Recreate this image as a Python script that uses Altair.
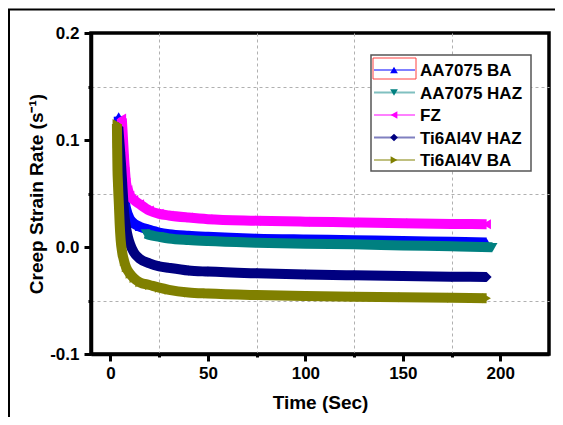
import altair as alt
import pandas as pd

names = ["AA7075 BA", "AA7075 HAZ", "FZ", "Ti6Al4V HAZ", "Ti6Al4V BA"]
colors = ["#0000FF", "#008080", "#FF00FF", "#000080", "#808000"]
line_colors = ["#8080ff", "#80c0c0", "#ff80ff", "#8080c0", "#c0c080"]
shapes = ["triangle-up", "triangle-down", "triangle-left", "diamond", "triangle-right"]

t_aa_ba = [4.2, 4.8, 5.3, 5.8, 6.3, 7, 8, 10, 12, 15, 20, 25, 30, 40, 50, 75, 100, 125, 150, 175, 193]
v_aa_ba = [0.122, 0.106, 0.09, 0.075, 0.06, 0.046, 0.036, 0.026, 0.022, 0.019, 0.016, 0.0135,
           0.012, 0.0105, 0.0095, 0.0078, 0.007, 0.0064, 0.0055, 0.0048, 0.0042]

t_aa_haz = [18, 20, 25, 30, 40, 50, 75, 100, 125, 150, 175, 196]
v_aa_haz = [0.0125, 0.0112, 0.0095, 0.008, 0.0065, 0.0055, 0.004, 0.003, 0.0025, 0.0015, 0.0006, -0.0003]

t_fz = [5.8, 6.2, 6.6, 7, 7.5, 8, 9, 10, 12, 15, 20, 25, 30, 40, 50, 75, 100, 125, 150, 175, 193]
v_fz = [0.12, 0.108, 0.095, 0.082, 0.07, 0.06, 0.053, 0.048, 0.044, 0.040, 0.034, 0.031, 0.0295,
        0.0275, 0.026, 0.0246, 0.0237, 0.023, 0.0222, 0.0216, 0.0213]

t_ti_haz = [4, 4.5, 5, 5.5, 6, 6.5, 7, 8, 9, 10, 12, 15, 20, 25, 30, 40, 50, 75, 100, 125, 150, 175, 193]
v_ti_haz = [0.112, 0.1, 0.088, 0.075, 0.06, 0.045, 0.032, 0.018, 0.009, 0.003, -0.005, -0.011,
            -0.0153, -0.018, -0.0195, -0.022, -0.023, -0.0246, -0.0257, -0.0265, -0.0272, -0.0277, -0.028]

t_ti_ba = [3.3, 3.4, 3.5, 3.6, 3.8, 4, 4.3, 4.7, 5.2, 6, 7, 8, 10, 12, 15, 20, 25, 30, 40, 50,
           75, 100, 125, 150, 175, 193]
v_ti_ba = [0.115, 0.097, 0.083, 0.071, 0.061, 0.052, 0.04, 0.022, 0.007, -0.005, -0.013, -0.019,
           -0.025, -0.029, -0.033, -0.0355, -0.038, -0.040, -0.0425, -0.0435, -0.0449, -0.0457,
           -0.0464, -0.047, -0.0475, -0.0478]

x_ticks = [0, 25, 50, 75, 100, 125, 150, 175, 200]
y_ticks = [-0.1, -0.05, 0.0, 0.05, 0.1, 0.15, 0.2]

series_t = [t_aa_ba, t_aa_haz, t_fz, t_ti_haz, t_ti_ba]
series_v = [v_aa_ba, v_aa_haz, v_fz, v_ti_haz, v_ti_ba]

FONT = "Arial"

x_minor = "datum.value % 50 != 0"
y_minor = "round(abs(datum.value) * 20) % 2 == 1"

x_enc = alt.X(
    "time:Q",
    scale=alt.Scale(domain=[-10, 225], nice=False, zero=False),
    axis=alt.Axis(
        values=x_ticks,
        title="Time (Sec)",
        labelExpr="datum.value % 50 == 0 ? datum.label : ''",
        grid=True,
        gridOpacity={"condition": {"test": x_minor, "value": 1}, "value": 0},
        tickSize={"condition": {"test": x_minor, "value": 3}, "value": 7},
        labelPadding=4,
        labelOverlap=False,
        labelFlush=False,
        titleX=229,
        titleY=48,
        titleBaseline="middle",
        titleAlign="center",
    ),
)
y_enc = alt.Y(
    "value:Q",
    scale=alt.Scale(domain=[-0.1, 0.2], nice=False, zero=False),
    axis=alt.Axis(
        values=y_ticks,
        title="Creep Strain Rate (s⁻¹)",
        format=".1f",
        labelExpr="round(abs(datum.value) * 20) % 2 == 0 ? replace(datum.label, '−', '-') : ''",
        grid=True,
        gridOpacity={"condition": {"test": y_minor, "value": 1}, "value": 0},
        tickSize={"condition": {"test": y_minor, "value": 3}, "value": 7},
        labelPadding=5,
        labelOverlap=False,
        labelFlush=False,
        titleX=-55,
        titleY=160.5,
        titleAngle=270,
        titleBaseline="middle",
        titleAlign="center",
    ),
)

data_layers = []
for name, col, shp, ts, vs in zip(names, colors, shapes, series_t, series_v):
    df = pd.DataFrame({"time": ts, "value": vs, "series": name})
    base = alt.Chart(df)
    data_layers.append(
        base.mark_line(color=col, strokeWidth=10, interpolate="monotone", clip=True).encode(x=x_enc, y=y_enc)
    )
    data_layers.append(
        base.mark_point(shape=shp, color=col, filled=True, opacity=1, size=100, clip=True).encode(x=x_enc, y=y_enc)
    )
data_chart = alt.layer(*data_layers)

one = pd.DataFrame({"a": [0]})
frame = alt.Chart(one).mark_rect(fill="white", fillOpacity=0, stroke="black", strokeWidth=2).encode(
    x=alt.value(-82), x2=alt.value(600), y=alt.value(-23.5), y2=alt.value(500)
)

leg_df = pd.DataFrame({"series": names})
leg_y = alt.Y("series:N", scale=alt.Scale(type="point", domain=names, range=[37, 127], padding=0), axis=None)
leg_box = alt.Chart(one).mark_rect(fill="white", stroke="#555555", strokeWidth=1.5).encode(
    x=alt.value(280), x2=alt.value(440), y=alt.value(22), y2=alt.value(138)
)
leg_red = alt.Chart(one).mark_rect(fill="white", stroke="#ff4040", strokeWidth=1).encode(
    x=alt.value(282), x2=alt.value(325), y=alt.value(25), y2=alt.value(46)
)
leg_lines = alt.Chart(leg_df).mark_rule(strokeWidth=2).encode(
    x=alt.value(283), x2=alt.value(324), y=leg_y,
    stroke=alt.Stroke("series:N", scale=alt.Scale(domain=names, range=line_colors), legend=None),
)
leg_pts = alt.Chart(leg_df).mark_point(filled=True, opacity=1, size=60).encode(
    x=alt.value(303), y=leg_y,
    color=alt.Color("series:N", scale=alt.Scale(domain=names, range=colors), legend=None),
    shape=alt.Shape("series:N", scale=alt.Scale(domain=names, range=shapes), legend=None),
)
leg_txt = alt.Chart(leg_df).mark_text(
    align="left", baseline="middle", font=FONT, fontSize=17, fontWeight="bold", color="black", dy=1
).encode(x=alt.value(329), y=leg_y, text="series:N")
legend_chart = alt.layer(leg_box, leg_red, leg_lines, leg_pts, leg_txt)

chart = (
    alt.layer(frame, data_chart, legend_chart)
    .resolve_scale(y="independent")
    .properties(
        width=458,
        height=321,
        autosize=alt.AutoSizeParams(type="none"),
        padding={"left": 83, "top": 25, "right": 6, "bottom": 63},
    )
    .configure_view(stroke="black", strokeWidth=3.5)
    .configure_axis(
        domainColor="black",
        domainWidth=3.5,
        tickColor="black",
        tickWidth=3,
        labelFont=FONT,
        labelFontSize=17,
        labelFontWeight="bold",
        labelColor="black",
        titleFont=FONT,
        titleFontSize=19,
        titleFontWeight="bold",
        titleColor="black",
        gridColor="#b0b0b0",
        gridDash=[3, 3],
        gridWidth=1,
    )
)

chart.save("out.html", embed_options={"renderer": "svg", "actions": False})
